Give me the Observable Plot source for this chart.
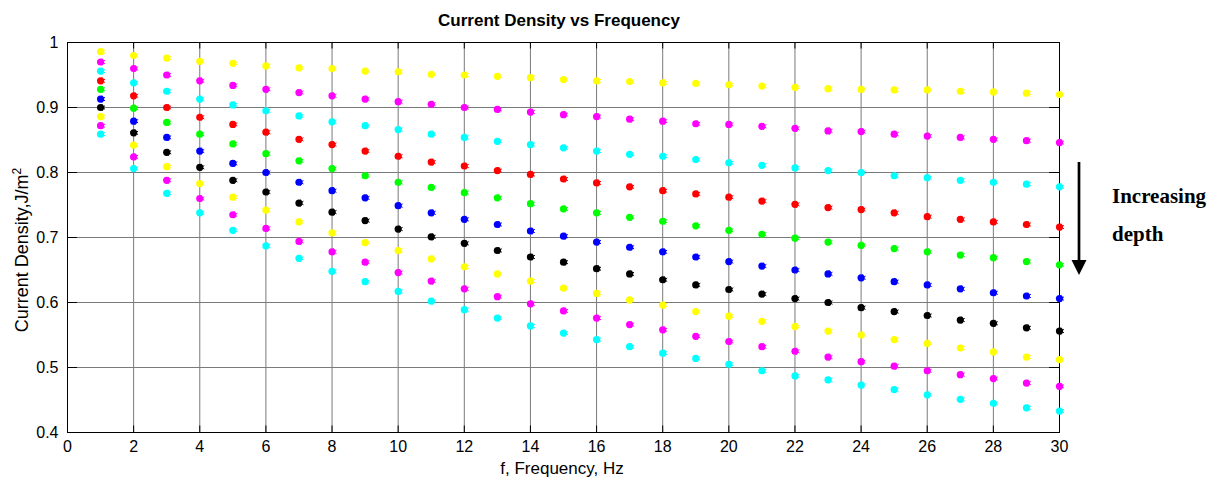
<!DOCTYPE html>
<html>
<head>
<meta charset="utf-8">
<script src="https://cdn.jsdelivr.net/npm/d3@7"></script>
<script src="https://cdn.jsdelivr.net/npm/@observablehq/plot@0.6"></script>
<style>
  html, body { margin: 0; padding: 0; background: #fff; }
  #chart svg { display: block; }
</style>
</head>
<body>
<div id="chart"></div>
<script>
const frequency = [1,2,3,4,5,6,7,8,9,10,11,12,13,14,15,16,17,18,19,20,21,22,23,24,25,26,27,28,29,30];
const seriesNames = ["d1","d2","d3","d4","d5","d6","d7","d8","d9","d10"];
const seriesColors = ["#ffff00","#ff00ff","#00ffff","#ff0000","#00ff00","#0000ff","#000000","#ffff00","#ff00ff","#00ffff"];

const d1 = [0.986,0.980,0.976,0.971,0.968,0.964,0.961,0.960,0.956,0.955,0.951,0.950,0.948,0.946,0.943,0.941,0.940,0.938,0.937,0.935,0.933,0.931,0.929,0.928,0.927,0.927,0.925,0.924,0.922,0.920];
const d2 = [0.970,0.960,0.950,0.941,0.934,0.928,0.923,0.918,0.913,0.909,0.905,0.900,0.897,0.893,0.889,0.886,0.882,0.879,0.875,0.874,0.871,0.868,0.864,0.863,0.859,0.856,0.854,0.851,0.849,0.846];
const d3v = [0.956,0.938,0.925,0.913,0.904,0.895,0.887,0.878,0.872,0.866,0.859,0.854,0.848,0.843,0.838,0.833,0.828,0.825,0.820,0.815,0.811,0.807,0.803,0.800,0.795,0.792,0.788,0.785,0.782,0.778];
const d4 = [0.941,0.918,0.900,0.885,0.874,0.862,0.851,0.843,0.833,0.825,0.816,0.810,0.803,0.797,0.790,0.784,0.778,0.772,0.767,0.762,0.756,0.751,0.746,0.743,0.738,0.732,0.728,0.724,0.720,0.716];
const d5 = [0.928,0.899,0.877,0.859,0.844,0.829,0.818,0.806,0.795,0.785,0.777,0.769,0.761,0.752,0.744,0.738,0.731,0.725,0.718,0.711,0.705,0.699,0.693,0.688,0.683,0.678,0.673,0.669,0.663,0.658];
const d6 = [0.913,0.879,0.854,0.833,0.814,0.800,0.785,0.772,0.761,0.749,0.738,0.728,0.720,0.710,0.702,0.693,0.685,0.678,0.670,0.663,0.656,0.650,0.644,0.638,0.632,0.627,0.621,0.615,0.610,0.606];
const d7 = [0.900,0.861,0.831,0.808,0.788,0.770,0.753,0.739,0.726,0.713,0.701,0.691,0.680,0.670,0.662,0.652,0.644,0.635,0.627,0.620,0.613,0.606,0.600,0.592,0.586,0.580,0.573,0.568,0.561,0.556];
const d8 = [0.886,0.842,0.809,0.783,0.762,0.742,0.724,0.707,0.692,0.680,0.667,0.655,0.644,0.633,0.622,0.614,0.604,0.596,0.586,0.579,0.571,0.563,0.556,0.550,0.543,0.537,0.530,0.524,0.516,0.512];
const d9 = [0.872,0.824,0.788,0.760,0.735,0.714,0.694,0.678,0.662,0.646,0.633,0.621,0.609,0.598,0.587,0.576,0.566,0.558,0.548,0.540,0.532,0.525,0.516,0.509,0.502,0.495,0.489,0.483,0.476,0.471];
const d10 = [0.859,0.806,0.768,0.738,0.711,0.687,0.668,0.648,0.632,0.617,0.602,0.589,0.576,0.564,0.553,0.543,0.532,0.522,0.514,0.505,0.495,0.487,0.481,0.473,0.466,0.458,0.451,0.445,0.438,0.433];

const xTicks = [0,2,4,6,8,10,12,14,16,18,20,22,24,26,28,30];
const yTicks = [0.4,0.5,0.6,0.7,0.8,0.9,1];
const titleText = "Current Density vs Frequency";
const xLabel = "f, Frequency, Hz";
const yLabel = "Current Density,J/m";
const annotation = ["Increasing", "depth"];

const allSeries = [d1,d2,d3v,d4,d5,d6,d7,d8,d9,d10];
const points = [];
allSeries.forEach((vals, si) => {
  vals.forEach((v, i) => points.push({f: frequency[i], j: v, s: seriesNames[si]}));
});

const font = "'Liberation Sans', Arial, Helvetica, sans-serif";

const plot = Plot.plot({
  width: 1227,
  height: 483,
  marginLeft: 67,
  marginRight: 168,
  marginTop: 42,
  marginBottom: 51,
  style: {fontFamily: font, fontSize: "16px", color: "#000", background: "#fff"},
  x: {domain: [0, 30], ticks: xTicks, label: null},
  y: {domain: [0.4, 1], ticks: yTicks, label: null},
  color: {domain: seriesNames, range: seriesColors},
  marks: [
    Plot.gridX(xTicks, {stroke: "#7a7a7a", strokeOpacity: 1, strokeWidth: 1}),
    Plot.gridY(yTicks, {stroke: "#7a7a7a", strokeOpacity: 1, strokeWidth: 1}),
    // inward ticks
    Plot.ruleX(xTicks, {y1: 0.4, y2: 0.41, stroke: "#000", strokeWidth: 1}),
    Plot.ruleX(xTicks, {y1: 1, y2: 0.99, stroke: "#000", strokeWidth: 1}),
    Plot.ruleY(yTicks, {x1: 0, x2: 0.3, stroke: "#000", strokeWidth: 1}),
    Plot.ruleY(yTicks, {x1: 30, x2: 29.7, stroke: "#000", strokeWidth: 1}),
    Plot.frame({stroke: "#000", strokeWidth: 1}),
    Plot.axisX(xTicks, {tickSize: 0, tickPadding: 8, fontSize: 16, tickFormat: d => String(d)}),
    Plot.axisY(yTicks, {tickSize: 0, tickPadding: 9, fontSize: 16, tickFormat: d => String(+d.toFixed(1))}),
    Plot.dot(points, {x: "f", y: "j", fill: "s", r: 3.6, stroke: null}),
    Plot.dot(points, {x: "f", y: "j", stroke: "s", symbol: "asterisk", r: 3.2, strokeWidth: 1, dx: 1.5})
  ]
});

const svg = d3.select(plot);
svg.append("text")
  .attr("x", 559).attr("y", 26)
  .attr("text-anchor", "middle")
  .attr("font-family", font)
  .attr("font-weight", "bold")
  .attr("font-size", 17)
  .attr("fill", "#000")
  .text(titleText);

svg.append("text")
  .attr("x", 562).attr("y", 474)
  .attr("text-anchor", "middle")
  .attr("font-family", font)
  .attr("font-size", 17)
  .attr("fill", "#000")
  .text(xLabel);

const yl = svg.append("text")
  .attr("transform", "translate(28,250) rotate(-90)")
  .attr("text-anchor", "middle")
  .attr("font-family", font)
  .attr("font-size", 18)
  .attr("fill", "#000");
yl.append("tspan").text(yLabel);
yl.append("tspan").attr("baseline-shift", "super").attr("font-size", 12).text("2");

// annotation arrow
svg.append("line")
  .attr("x1", 1079).attr("x2", 1079)
  .attr("y1", 162).attr("y2", 262)
  .attr("stroke", "#000").attr("stroke-width", 2.7);
svg.append("path")
  .attr("d", "M1071.5,260 L1086.5,260 L1079,275 Z")
  .attr("fill", "#000");
annotation.forEach((t, i) => {
  svg.append("text")
    .attr("x", 1112).attr("y", 203 + i * 38)
    .attr("text-anchor", "start")
    .attr("font-family", "'Liberation Serif', 'Times New Roman', serif")
    .attr("font-weight", "bold")
    .attr("font-size", 21)
    .attr("fill", "#000")
    .text(t);
});

document.getElementById("chart").appendChild(plot);
</script>
</body>
</html>
